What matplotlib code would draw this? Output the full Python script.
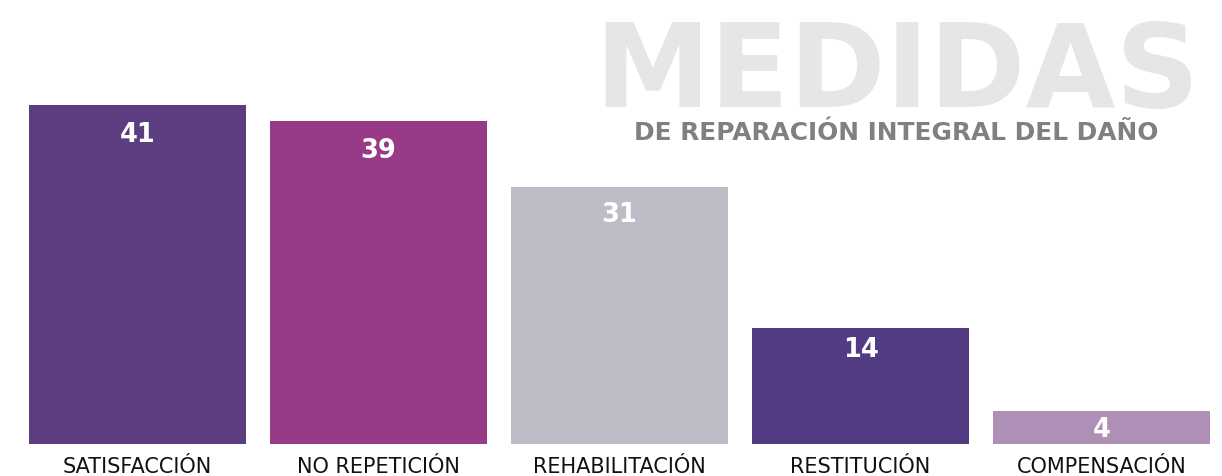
import matplotlib
matplotlib.use('Agg')
import matplotlib.pyplot as plt
import numpy as np

# Data
categories = ['SATISFACCIÓN', 'NO REPETICIÓN', 'REHABILITACIÓN', 'RESTITUCIÓN', 'COMPENSACIÓN']
values = [41, 39, 31, 14, 4]
bar_colors = ['#5C3D7F', '#983A88', '#BEBCC6', '#523B82', '#AE8FB5']
title = 'MEDIDAS'
subtitle = 'DE REPARACIÓN INTEGRAL DEL DAÑO'

W, H = 1222, 477
fig = plt.figure(figsize=(W / 100, H / 100), dpi=100)
renderer = fig.canvas.get_renderer()


def fit_text(t, target_px):
    # scale font so the rendered text width matches target_px
    w = t.get_window_extent(renderer).width
    t.set_fontsize(t.get_fontsize() * target_px / w)


# Title block (drawn behind the bars)
t1 = fig.text(1200 / W, 1 - 107 / H, title, fontsize=90, fontweight='bold', color='#E6E6E6',
              ha='right', va='baseline', family='DejaVu Sans', zorder=0)
fit_text(t1, 606)
t2 = fig.text(1158 / W, 1 - 140 / H, subtitle, fontsize=18, fontweight='bold', color='#808080',
              ha='right', va='baseline', family='DejaVu Sans', zorder=0)
fit_text(t2, 526)

ax = fig.add_axes([17 / W, 32 / H, 1205 / W, 445 / H])
ax.patch.set_alpha(0)
x = np.arange(len(values))
ax.bar(x, values, width=0.9, color=bar_colors, zorder=2)
ax.set_xlim(-0.5, 4.5)
ax.set_ylim(0, 445 / 8.28)

for xi, v in zip(x, values):
    ax.annotate(str(v), (xi, v), xytext=(0, -(17 + 0.3 * v) * 0.72), textcoords='offset points',
                ha='center', va='center', color='white', fontsize=18.5, fontweight='bold', zorder=3)

ax.set_xticks(x)
ax.set_xticklabels(categories, fontsize=15, color='#111111')
ax.tick_params(axis='x', length=0, pad=9)
ax.set_yticks([])
for s in ax.spines.values():
    s.set_visible(False)

fig.savefig('out.png', dpi=100)
